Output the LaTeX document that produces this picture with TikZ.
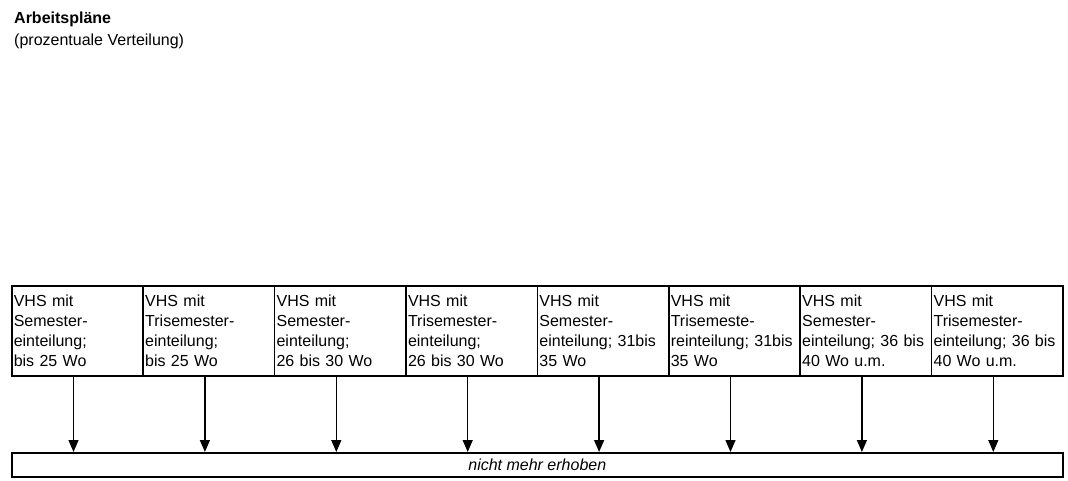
\documentclass[tikz,border=0pt]{standalone}
\usepackage{fontspec}
\setmainfont{Liberation Sans}
\usetikzlibrary{arrows.meta}
\newcommand{\grosz}{\fontsize{16}{20}\selectfont}

\begin{document}
\begin{tikzpicture}[x=1pt,y=-1pt,
  feld/.style={font=\grosz,draw,line width=1.6pt,anchor=north west,text width=127.4pt,
    inner xsep=2pt,inner ysep=0pt,minimum height=90pt,align=left},
  pfeil/.style={line width=1.3pt,-{Triangle[width=10pt,length=12pt]}}]
\useasboundingbox (0,0) rectangle (1068,480);
\node[anchor=base west,inner sep=0pt,font=\grosz\bfseries] (titel) at (14,23) {Arbeitspläne};
\node[anchor=base west,inner sep=0pt,font=\grosz] (untertitel) at (14,45) {(prozentuale Verteilung)};
% obere Reihe
\foreach \t [count=\i] in {{VHS mit\\Semester-\\einteilung;\\bis 25 Wo},
  {VHS mit\\Trisemester-\\einteilung;\\bis 25 Wo},
  {VHS mit\\Semester-\\einteilung;\\26 bis 30 Wo},
  {VHS mit\\Trisemester-\\einteilung;\\26 bis 30 Wo},
  {VHS mit\\Semester-\\einteilung; 31bis\\35 Wo},
  {VHS mit\\Trisemeste-\\reinteilung; 31bis\\35 Wo},
  {VHS mit\\Semester-\\einteilung; 36 bis\\40 Wo u.m.},
  {VHS mit\\Trisemester-\\einteilung; 36 bis\\40 Wo u.m.}}
  \node[feld] (b\i) at ({11+(\i-1)*131.4},285) {\t};
\node[draw,line width=1.6pt,anchor=north west,minimum width=1051pt,minimum height=24pt,
  inner sep=0pt,font=\grosz\itshape] (leer) at (11,452) {nicht mehr erhoben};
%\draw[pfeil] (b1.south) -- (leer.north);
\foreach \i in {1,...,8}
  \draw[pfeil] ([xshift=-4pt]b\i.south) -- ([xshift=-4pt]b\i.south |- leer.north);
\end{tikzpicture}
\end{document}
